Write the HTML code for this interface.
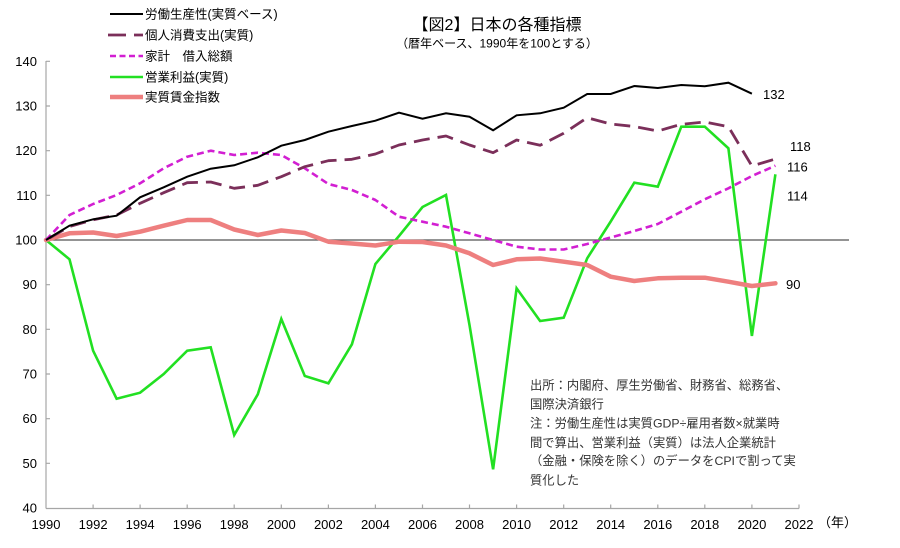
<!DOCTYPE html>
<html><head><meta charset="utf-8"><style>
html,body{margin:0;padding:0;background:#fff;}
svg{display:block;}
text{font-family:"Liberation Sans","Noto Sans CJK JP",sans-serif;}
</style></head><body>
<svg width="900" height="548" viewBox="0 0 900 548" xmlns="http://www.w3.org/2000/svg">
<rect width="900" height="548" fill="#fff"/>
<!-- axes -->
<g stroke="#a6a6a6" stroke-width="1.2" fill="none">
<line x1="46" y1="61" x2="46" y2="508.5"/>
<line x1="46" y1="508.5" x2="799" y2="508.5"/>
<path d="M46 61.3h4M46 106h4M46 150.7h4M46 195.3h4M46 240h4M46 284.7h4M46 329.3h4M46 374h4M46 418.7h4M46 463.3h4"/>
<path d="M93.1 508.5v-4M140.1 508.5v-4M187.2 508.5v-4M234.2 508.5v-4M281.3 508.5v-4M328.4 508.5v-4M375.4 508.5v-4M422.5 508.5v-4M469.5 508.5v-4M516.6 508.5v-4M563.7 508.5v-4M610.7 508.5v-4M657.8 508.5v-4M704.8 508.5v-4M751.9 508.5v-4M799 508.5v-4"/>
</g>
<line x1="46" y1="240" x2="849" y2="240" stroke="#555" stroke-width="1.3"/>
<!-- y labels -->
<g font-size="13" fill="#000" text-anchor="end">
<text x="37" y="66">140</text><text x="37" y="110.5">130</text><text x="37" y="155">120</text><text x="37" y="200">110</text><text x="37" y="244.5">100</text><text x="37" y="289">90</text><text x="37" y="334">80</text><text x="37" y="378.5">70</text><text x="37" y="423">60</text><text x="37" y="468">50</text><text x="37" y="512.5">40</text>
</g>
<!-- x labels -->
<g font-size="13" fill="#000" text-anchor="middle">
<text x="46" y="529">1990</text><text x="93.1" y="529">1992</text><text x="140.1" y="529">1994</text><text x="187.2" y="529">1996</text><text x="234.2" y="529">1998</text><text x="281.3" y="529">2000</text><text x="328.4" y="529">2002</text><text x="375.4" y="529">2004</text><text x="422.5" y="529">2006</text><text x="469.5" y="529">2008</text><text x="516.6" y="529">2010</text><text x="563.7" y="529">2012</text><text x="610.7" y="529">2014</text><text x="657.8" y="529">2016</text><text x="704.8" y="529">2018</text><text x="751.9" y="529">2020</text><text x="799" y="529">2022</text>
</g>
<text x="818" y="527" font-size="13" fill="#000">（年）</text>
<!-- series -->
<polyline fill="none" stroke="#22e022" stroke-width="2.6" stroke-linejoin="miter" points="46,240 69.5,259.3 93.1,350.7 116.6,398.7 140.1,392.7 163.7,374 187.2,350.7 210.7,347.3 234.2,435 257.8,394.3 281.3,319 304.8,376 328.4,383.3 351.9,344.3 375.4,264 399,236 422.5,207 446,195 469.5,325 493.1,469.3 516.6,288.3 540.1,321 563.7,317.7 587.2,258.3 610.7,221.5 634.3,182.7 657.8,186.7 681.3,126.7 704.8,126.7 728.4,148.3 751.9,336 775.4,174.3"/>
<polyline fill="none" stroke="#ee7f7f" stroke-width="4.5" stroke-linejoin="round" stroke-linecap="round" points="46,240 69.5,233.3 93.1,232.5 116.6,236 140.1,231.7 163.7,225.7 187.2,220 210.7,220 234.2,229.5 257.8,235 281.3,230.5 304.8,233 328.4,241.7 351.9,243.5 375.4,245.5 399,241.7 422.5,242 446,245.5 469.5,253.3 493.1,265 516.6,259.3 540.1,258.5 563.7,261.7 587.2,265 610.7,276.7 634.3,281 657.8,278.3 681.3,277.7 704.8,277.7 728.4,281.7 751.9,286 775.4,283.3"/>
<polyline fill="none" stroke="#d21fd2" stroke-width="2.6" stroke-dasharray="7,4" stroke-linejoin="round" points="46,240 69.5,215 93.1,204 116.6,195 140.1,183.3 163.7,168.3 187.2,156.7 210.7,150.7 234.2,155 257.8,152.7 281.3,155 304.8,168.3 328.4,184 351.9,190 375.4,200 399,216.7 422.5,221.7 446,226.7 469.5,233.3 493.1,240 516.6,246.7 540.1,249.5 563.7,249.5 587.2,244 610.7,237.5 634.3,231 657.8,224 681.3,211.7 704.8,199.3 728.4,188.3 751.9,176 775.4,165.7"/>
<polyline fill="none" stroke="#7b2f5a" stroke-width="2.8" stroke-dasharray="16,8" stroke-dashoffset="20" stroke-linejoin="round" points="46,240 69.5,226.5 93.1,219.8 116.6,215 140.1,203.3 163.7,192.7 187.2,182.7 210.7,182 234.2,188.3 257.8,185.3 281.3,176.7 304.8,166.7 328.4,160.7 351.9,159.3 375.4,154 399,145 422.5,140 446,136 469.5,145 493.1,152.7 516.6,140 540.1,145.3 563.7,133.3 587.2,117.7 610.7,124 634.3,126.5 657.8,131 681.3,124.3 704.8,122 728.4,126.7 751.9,166 775.4,159"/>
<polyline fill="none" stroke="#000" stroke-width="2" stroke-linejoin="miter" points="46,240 69.5,225.7 93.1,219.3 116.6,215.7 140.1,197.3 163.7,187.3 187.2,176.7 210.7,168.7 234.2,165.3 257.8,157.3 281.3,145.7 304.8,140 328.4,131.7 351.9,126 375.4,120.7 399,112.7 422.5,118.7 446,113.3 469.5,116.7 493.1,130.3 516.6,115.3 540.1,113.3 563.7,107.7 587.2,94 610.7,94 634.3,86 657.8,88 681.3,85 704.8,86.3 728.4,82.7 751.9,93.7"/>
<!-- end labels -->
<g font-size="13" fill="#000">
<text x="763" y="99">132</text>
<text x="790" y="151">118</text>
<text x="787" y="171.5">116</text>
<text x="787" y="200.5">114</text>
<text x="786" y="289">90</text>
</g>
<!-- legend -->
<line x1="110" y1="14" x2="143" y2="14" stroke="#000" stroke-width="2"/>
<line x1="108" y1="35" x2="143" y2="35" stroke="#7b2f5a" stroke-width="2.8" stroke-dasharray="18,8"/>
<line x1="110" y1="56" x2="143" y2="56" stroke="#d21fd2" stroke-width="2.6" stroke-dasharray="6,3.5"/>
<line x1="110" y1="77" x2="143" y2="77" stroke="#22e022" stroke-width="2.6"/>
<line x1="110" y1="97" x2="143" y2="97" stroke="#ee7f7f" stroke-width="4.5"/>
<g font-size="12.5" fill="#000">
<text x="145" y="18.5">労働生産性(実質ベース)</text>
<text x="145" y="39.5">個人消費支出(実質)</text>
<text x="145" y="60.5">家計　借入総額</text>
<text x="145" y="81.5">営業利益(実質)</text>
<text x="145" y="101.5">実質賃金指数</text>
</g>
<!-- title -->
<text x="497" y="30" font-size="16" text-anchor="middle" fill="#000">【図2】日本の各種指標</text>
<text x="497" y="47.5" font-size="12" text-anchor="middle" fill="#000">（暦年ベース、1990年を100とする）</text>
<!-- note -->
<g font-size="12.3" fill="#333">
<text x="530" y="389.5">出所：内閣府、厚生労働省、財務省、総務省、</text>
<text x="530" y="408.5">国際決済銀行</text>
<text x="530" y="427.5">注：労働生産性は実質GDP÷雇用者数×就業時</text>
<text x="530" y="447">間で算出、営業利益（実質）は法人企業統計</text>
<text x="530" y="465">（金融・保険を除く）のデータをCPIで割って実</text>
<text x="530" y="484.5">質化した</text>
</g>
</svg>
</body></html>
